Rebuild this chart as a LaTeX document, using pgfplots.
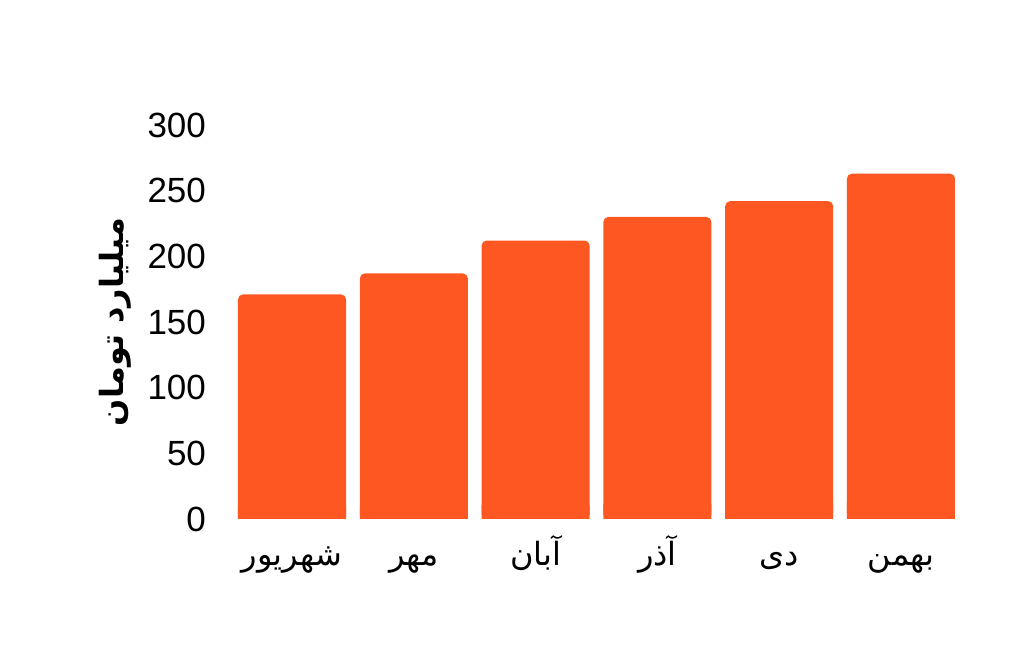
\documentclass[border=0pt]{standalone}
\usepackage{fontspec}
\setmainfont{Liberation Sans}
\newfontfamily\arabicfont[Script=Arabic]{DejaVu Sans}
\TeXXeTstate=1
\usepackage{pgfplots}
\pgfplotsset{compat=1.18}
\usepackage{pgfplotstable}
\definecolor{barc}{HTML}{FF5722}
\pgfplotstableread{
x v
0 171
1 187
2 212
3 230
4 242
5 263
}\datatable
\begin{document}
\begin{tikzpicture}
\begin{axis}[
  at={(119pt,69.5pt)}, anchor=south west,
  scale only axis, width=358.5pt, height=197pt,
  xmin=-0.4435, xmax=5.4435, ymin=0, ymax=300,
  axis line style={draw=none},
  major tick length=0pt,
  ytick={0,50,...,300},
  xtick={0,1,2,3,4,5},
  xticklabels={{\arabicfont\beginR شهریور\endR},{\arabicfont\beginR مهر\endR},{\arabicfont\beginR آبان\endR},{\arabicfont\beginR آذر\endR},{\arabicfont\beginR دی\endR},{\arabicfont\beginR بهمن\endR}},
  yticklabel style={font=\fontsize{17.5}{19}\selectfont, anchor=east, xshift=-12.5pt},
  xticklabel style={font=\fontsize{16}{18}\selectfont, anchor=base, yshift=-23.5pt},
  /pgf/number format/assume math mode=true,
  ylabel={\arabicfont\bfseries\beginR میلیارد تومان\endR},
  ylabel style={at={(axis description cs:-0.1716,0.5)}, anchor=center, font=\fontsize{16}{19}\selectfont},
  clip=false,
]
\addplot[ybar, bar width=0.887, bar shift=0pt, fill=barc, draw=none, rounded corners=2.5pt] table[x=x,y=v] {\datatable};
\addplot[ybar, bar width=0.887, bar shift=0pt, fill=barc, draw=none] table[x=x,y expr=0.05*\thisrow{v}] {\datatable};
\end{axis}
\pgfresetboundingbox
\path[use as bounding box] (0,0) rectangle (512pt,329pt);
\end{tikzpicture}
\end{document}
